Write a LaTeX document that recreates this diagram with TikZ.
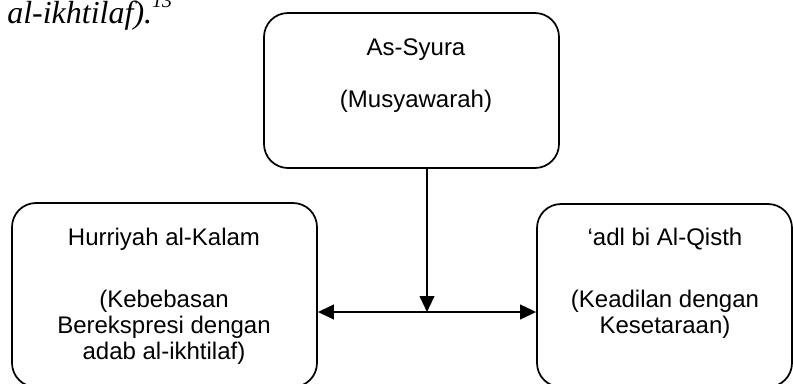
\documentclass[tikz,border=0pt]{standalone}
\usepackage{fontspec}
\setmainfont{Liberation Sans}
\newfontfamily\bodyserif{Liberation Serif}
\usepackage{tikz}
\usetikzlibrary{positioning,arrows.meta}

\begin{document}
\begin{tikzpicture}[
  x=0.75pt, y=-0.75pt,
  every node/.style={font=\fontsize{18}{19.3}\selectfont},
  pillar/.style={draw=black, line width=1.3pt, rounded corners=18pt,
    inner sep=0pt},
  title/.style={anchor=base, inner sep=0pt},
  gloss/.style={anchor=north, align=center, inner sep=0pt},
  arr/.style={-{Triangle[length=12pt,width=11pt]}, line width=1.5pt},
  biarr/.style={{Triangle[length=12pt,width=11pt]}-{Triangle[length=12pt,width=11pt]}, line width=1.5pt},
]
\useasboundingbox (0,0) rectangle (793,383);

\node[anchor=base west, inner sep=0pt,
  font=\bodyserif\itshape\fontsize{24}{27}\selectfont]
  at (7,23) (prevline) {al-ikhtilaf).{\fontsize{15}{15}\selectfont\raisebox{11.6pt}{13}}};

\node[pillar, minimum width=221.25pt, minimum height=116.25pt] at (411.5, 90.5) (syura) {};
\node[pillar, minimum width=228.75pt, minimum height=138pt]    at (164.5,295)   (kalam) {};
\node[pillar, minimum width=191.25pt, minimum height=137.25pt] at (664.5,295.5) (qisth) {};

\node[title] at (416, 55)  (syuraT) {As-Syura};
\node[title] at (416,107)  (syuraG) {(Musyawarah)};
\node[title] at (164,245)  (kalamT) {Hurriyah al-Kalam};
\node[gloss] at (164,290)  (kalamG) {(Kebebasan\\Berekspresi dengan\\adab al-ikhtilaf)};
\node[title] at (665,245)  (qisthT) {`adl bi Al-Qisth};
\node[gloss] at (665,290)  (qisthG) {(Keadilan dengan\\Kesetaraan)};

\coordinate (mid) at (427,312);
\draw[arr]   (syura.south -| mid) -- (mid);
\draw[biarr] (kalam.east |- mid)  -- (qisth.west |- mid);
\end{tikzpicture}
\end{document}
